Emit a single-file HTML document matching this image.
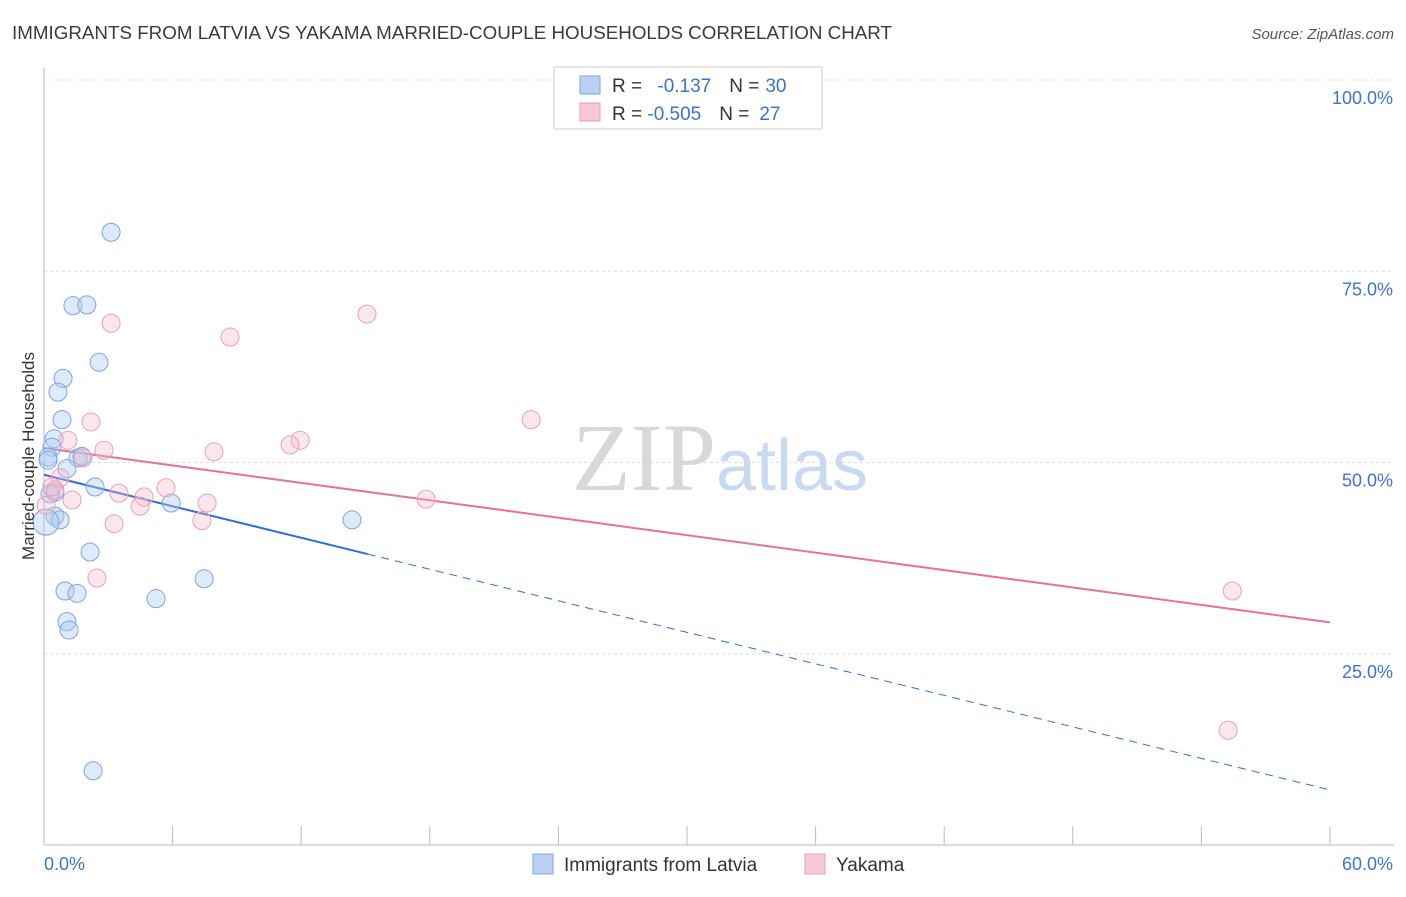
<!DOCTYPE html>
<html><head><meta charset="utf-8"><style>
body{margin:0;background:#fff;font-family:"Liberation Sans",sans-serif}
</style></head><body>
<svg width="1406" height="892" xmlns="http://www.w3.org/2000/svg" font-family="Liberation Sans, sans-serif">
<text x="12" y="39" font-size="18" fill="#3a3a3a" textLength="880" lengthAdjust="spacingAndGlyphs">IMMIGRANTS FROM LATVIA VS YAKAMA MARRIED-COUPLE HOUSEHOLDS CORRELATION CHART</text>
<text x="1394" y="39" font-size="15" fill="#555" text-anchor="end" font-style="italic">Source: ZipAtlas.com</text>
<text x="720" y="490" font-size="96" text-anchor="middle"><tspan fill="#d8d8d8" font-family="Liberation Serif, serif">ZIP</tspan><tspan fill="#c8daf2" font-size="72">atlas</tspan></text>
<g id="grid"></g><g id="axes"></g><g id="lines"></g><g id="pts"></g>
<text transform="translate(34,456) rotate(-90)" font-size="17" fill="#333" text-anchor="middle">Married-couple Households</text>
<g>
<rect x="554" y="67" width="268" height="62" fill="#fff" stroke="#ccc"/>
<rect x="580" y="76" width="20" height="18" fill="#b8d2f4" stroke="#7aa6e0"/>
<rect x="580" y="103" width="20" height="18" fill="#f9c8d6" stroke="#e8a0b8"/>
<text x="612" y="92" font-size="19" fill="#333">R = <tspan fill="#3b73d1" dx="10">-0.137</tspan><tspan dx="18" fill="#333">N =</tspan><tspan fill="#3b73d1" dx="6">30</tspan></text>
<text x="612" y="120" font-size="19" fill="#333">R = <tspan fill="#3b73d1">-0.505</tspan><tspan dx="18" fill="#333">N =</tspan><tspan fill="#3b73d1" dx="10">27</tspan></text>
</g>
<g>
<rect x="533" y="854" width="20" height="20" fill="#b8d2f4" stroke="#7aa6e0"/>
<text x="564" y="871" font-size="19" fill="#333">Immigrants from Latvia</text>
<rect x="805" y="854" width="20" height="20" fill="#f9c8d6" stroke="#e8a0b8"/>
<text x="836" y="871" font-size="19" fill="#333">Yakama</text>
</g>
</svg>
<script>
const blueX=[3.13,1.35,2.0,2.57,0.89,0.65,0.84,0.47,0.37,0.19,0.19,1.59,1.77,1.07,2.38,0.51,0.28,5.93,0.51,0.75,0.09,14.37,2.15,0.98,1.54,7.47,5.23,1.07,1.17,2.29];
const blueY=[80.1,70.5,70.6,63.1,61.0,59.2,55.6,53.1,52.0,50.7,50.3,50.6,50.8,49.2,46.8,46.1,45.9,44.7,43.0,42.5,42.2,42.5,38.3,33.2,32.9,34.8,32.2,29.2,28.1,9.7];
const pinkX=[3.13,8.68,15.07,2.19,22.73,1.12,2.8,7.93,11.95,11.48,1.82,0.75,0.51,3.5,5.69,4.67,4.48,7.61,1.31,17.83,3.27,7.37,2.47,55.44,55.25,0.37,0.1];
const pinkY=[68.2,66.4,69.4,55.3,55.6,52.9,51.6,51.4,52.9,52.3,50.6,48.0,46.4,46.0,46.7,45.5,44.3,44.7,45.1,45.2,42.0,42.4,34.9,33.2,15.0,46.8,44.4];
const blueTrend=[48.4,7.2], pinkTrend=[51.9,29.1];
const yTicks=[25,50,75,100], yLabels=["25.0%","50.0%","75.0%","100.0%"];
const NS="http://www.w3.org/2000/svg";
const sx=v=>44+v*21.433, sy=v=>845-v*7.65;
function mk(t,a,p){const e=document.createElementNS(NS,t);for(const k in a)e.setAttribute(k,a[k]);p.appendChild(e);return e;}
const G=document.getElementById('grid'),A=document.getElementById('axes'),L=document.getElementById('lines'),P=document.getElementById('pts');
yTicks.forEach((t,i)=>{
 const l=mk('line',{x1:44,x2:1394,y1:sy(t),y2:sy(t),stroke:'#ddd','stroke-dasharray':'3,3'},G);
 
 
 const tx=mk('text',{x:1393,y:sy(t)+24,'font-size':18,fill:'#3b73d1','text-anchor':'end'},A);
 tx.textContent=yLabels[i];
 
 
});
mk('line',{x1:44,x2:44,y1:68,y2:845,stroke:'#bbb'},A);
mk('line',{x1:44,x2:1394,y1:845,y2:845,stroke:'#bbb'},A);
for(let i=0;i<=10;i++){const t=mk('line',{x1:sx(i*6),x2:sx(i*6),y1:826,y2:845,stroke:'#bbb'},A);
 
 }
const x0=mk('text',{x:44,y:870,'font-size':18,fill:'#3b73d1'},A);x0.textContent='0.0%';


const x1=mk('text',{x:1393,y:870,'font-size':18,fill:'#3b73d1','text-anchor':'end'},A);x1.textContent='60.0%';


const bx=15.1, by=blueTrend[0]+(blueTrend[1]-blueTrend[0])*bx/60;
let e=mk('line',{x1:sx(0),y1:sy(blueTrend[0]),x2:sx(bx),y2:sy(by),stroke:'#2f6fd6','stroke-width':2},L);


e=mk('line',{x1:sx(bx),y1:sy(by),x2:sx(60),y2:sy(blueTrend[1]),stroke:'#2f6fd6','stroke-width':1,'stroke-dasharray':'8,6'},L);


e=mk('line',{x1:sx(0),y1:sy(pinkTrend[0]),x2:sx(60),y2:sy(pinkTrend[1]),stroke:'#e8709a','stroke-width':2},L);


blueX.forEach((x,i)=>{const c=mk('circle',{cx:sx(x),cy:sy(blueY[i]),r:i==20?13:9,fill:'rgba(170,202,242,0.4)',stroke:'#7aa6e0','stroke-width':1},P);
 
 });
pinkX.forEach((x,i)=>{const c=mk('circle',{cx:sx(x),cy:sy(pinkY[i]),r:9,fill:'rgba(247,182,203,0.35)',stroke:'#e8a0b8','stroke-width':1},P);
 
 });
</script>
</body></html>
